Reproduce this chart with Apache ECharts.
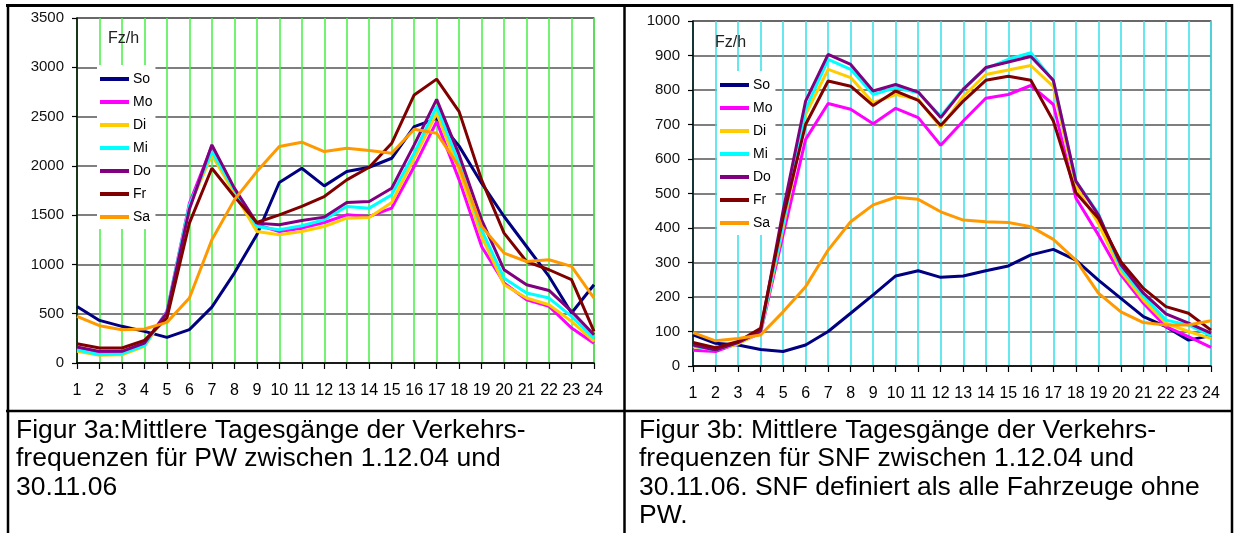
<!DOCTYPE html>
<html>
<head>
<meta charset="utf-8">
<script src="https://cdn.jsdelivr.net/npm/echarts@6/dist/echarts.min.js"></script>
<style>
  html, body { margin: 0; padding: 0; background: #fff; }
  #chart { width: 1237px; height: 533px; }
</style>
</head>
<body>
<div id="chart"></div>
<script>
// Stunden des Tages
const hours = ['1','2','3','4','5','6','7','8','9','10','11','12','13','14','15','16','17','18','19','20','21','22','23','24'];
const dayNames = ['So', 'Mo', 'Di', 'Mi', 'Do', 'Fr', 'Sa'];
const dayColors = ['#000080', '#FF00FF', '#FFCC00', '#00FFFF', '#800080', '#800000', '#FF9900'];

// Figur 3a: PW, Fahrzeuge pro Stunde
const pwSo = [574, 432, 372, 321, 260, 338, 567, 912, 1300, 1831, 1976, 1797, 1942, 1986, 2077, 2398, 2480, 2200, 1824, 1486, 1182, 878, 507, 794];
const pwMo = [152, 95, 101, 186, 524, 1621, 2200, 1757, 1402, 1334, 1368, 1425, 1503, 1486, 1571, 1993, 2449, 1858, 1182, 811, 642, 574, 355, 200];
const pwDi = [118, 78, 84, 169, 507, 1588, 2111, 1723, 1334, 1300, 1334, 1385, 1469, 1477, 1628, 2077, 2534, 1959, 1284, 794, 659, 591, 422, 220];
const pwMi = [135, 84, 95, 176, 520, 1600, 2145, 1757, 1385, 1351, 1392, 1453, 1588, 1571, 1706, 2128, 2601, 2027, 1351, 861, 710, 659, 473, 253];
const pwDo = [162, 118, 118, 203, 507, 1560, 2213, 1774, 1419, 1402, 1446, 1480, 1628, 1638, 1773, 2213, 2675, 2111, 1453, 946, 794, 736, 524, 287];
const pwFr = [196, 152, 152, 230, 456, 1419, 1976, 1689, 1425, 1503, 1588, 1689, 1858, 1986, 2229, 2719, 2880, 2550, 1858, 1317, 1030, 946, 845, 321];
const pwSa = [473, 378, 338, 345, 412, 659, 1250, 1655, 1942, 2196, 2240, 2145, 2179, 2155, 2128, 2371, 2331, 1993, 1385, 1115, 1030, 1047, 980, 659];

// Figur 3b: SNF, Fahrzeuge pro Stunde
const snfSo = [90, 66, 61, 48, 42, 61, 100, 153, 206, 261, 276, 257, 261, 276, 290, 322, 338, 307, 249, 196, 143, 114, 75, 88];
const snfMo = [46, 42, 66, 95, 380, 657, 761, 744, 702, 747, 720, 640, 710, 776, 787, 813, 758, 487, 380, 264, 182, 114, 85, 54];
const snfDi = [56, 48, 64, 97, 400, 729, 860, 836, 763, 787, 773, 691, 782, 845, 858, 871, 810, 521, 413, 274, 191, 124, 100, 80];
const snfMi = [58, 46, 68, 100, 410, 744, 889, 860, 787, 807, 792, 724, 804, 862, 889, 908, 826, 536, 442, 283, 203, 133, 119, 87];
const snfDo = [61, 46, 68, 100, 450, 768, 903, 874, 797, 816, 794, 720, 802, 865, 881, 897, 828, 536, 438, 293, 211, 151, 124, 95];
const snfFr = [68, 53, 71, 109, 430, 700, 826, 811, 755, 797, 770, 697, 768, 828, 840, 828, 710, 502, 428, 302, 225, 172, 153, 104];
const snfSa = [97, 73, 80, 90, 157, 230, 336, 418, 467, 489, 483, 447, 423, 418, 416, 404, 367, 307, 211, 157, 126, 119, 119, 131];

// Achsenbeschriftung
const pwTicks = { min: 0, max: 3500, interval: 500 };
const snfTicks = { min: 0, max: 1000, interval: 100 };
const unitLabel = 'Fz/h';
const captionA = 'Figur 3a:Mittlere Tagesgänge der Verkehrs-\nfrequenzen für PW zwischen 1.12.04 und\n30.11.06';
const captionB = 'Figur 3b: Mittlere Tagesgänge der Verkehrs-\nfrequenzen für SNF zwischen 1.12.04 und\n30.11.06. SNF definiert als alle Fahrzeuge ohne\nPW.';

const pwData = [pwSo, pwMo, pwDi, pwMi, pwDo, pwFr, pwSa];
const snfData = [snfSo, snfMo, snfDi, snfMi, snfDo, snfFr, snfSa];

const FONT = 'Arial, "Liberation Sans", sans-serif';

function xAxis(gridIndex, vColor) {
  return {
    type: 'category', gridIndex: gridIndex, data: hours, boundaryGap: false,
    axisLine: { lineStyle: { color: '#000', width: 1.5 } },
    axisTick: { show: true, length: 6, interval: 0, lineStyle: { color: '#000', width: 1.2 } },
    axisLabel: { interval: 0, margin: 20, color: '#000', fontSize: 16,
      fontFamily: '"Liberation Sans Narrow", "Arial Narrow", Arial, sans-serif' },
    splitLine: { show: true, interval: 0, lineStyle: { color: vColor, width: 1.5 } }
  };
}
function yAxis(gridIndex, t) {
  return {
    type: 'value', gridIndex: gridIndex, min: t.min, max: t.max, interval: t.interval,
    axisLine: { show: true, lineStyle: { color: '#000', width: 1.5 } },
    axisTick: { show: true, length: 5, lineStyle: { color: '#000', width: 1.2 } },
    axisLabel: { margin: 13, color: '#111', fontSize: 15, fontFamily: FONT,
      formatter: function (v) { return String(v); } },
    splitLine: { show: true, lineStyle: { color: '#555', width: 1.5 } }
  };
}
function legend(left, top) {
  return {
    data: dayNames, orient: 'vertical', left: left, top: top,
    icon: 'rect', itemWidth: 29, itemHeight: 4, itemGap: 7,
    padding: [6, 3, 4, 3], backgroundColor: '#fff',
    selectedMode: false,
    textStyle: { color: '#000', fontSize: 14, fontFamily: FONT, lineHeight: 16, padding: [0, 0, 0, -1] }
  };
}
function lines(data, idx) {
  return data.map(function (vals, i) {
    return {
      name: dayNames[i], type: 'line', xAxisIndex: idx, yAxisIndex: idx,
      data: vals, symbol: 'none', smooth: false,
      lineStyle: { color: dayColors[i], width: 3 },
      itemStyle: { color: dayColors[i] },
      z: 3 + i
    };
  });
}

const chart = echarts.init(document.getElementById('chart'), null, { renderer: 'canvas' });
chart.setOption({
  animation: false,
  backgroundColor: '#fff',
  grid: [
    { left: 77, right: 643, top: 18, bottom: 170, show: true, borderColor: '#888', borderWidth: 1.5, backgroundColor: '#fff' },
    { left: 693, right: 26, top: 21, bottom: 167, show: true, borderColor: '#888', borderWidth: 1.5, backgroundColor: '#fff' }
  ],
  xAxis: [xAxis(0, '#44EE44'), xAxis(1, '#33E0E8')],
  yAxis: [yAxis(0, pwTicks), yAxis(1, snfTicks)],
  legend: [legend(97, 65), legend(717, 71)],
  series: lines(pwData, 0).concat(lines(snfData, 1)),
  graphic: [
    { type: 'text', left: 108, top: 31, z: 20, style: { text: unitLabel, fill: '#222', font: '16px ' + FONT } },
    { type: 'text', left: 715, top: 35, z: 20, style: { text: unitLabel, fill: '#222', font: '16px ' + FONT } },
    // Tabellenrahmen
    { type: 'line', z: 30, shape: { x1: 6, y1: 5.5, x2: 1233, y2: 5.5 }, style: { stroke: '#000', lineWidth: 3 } },
    { type: 'line', z: 30, shape: { x1: 8, y1: 4, x2: 8, y2: 533 }, style: { stroke: '#000', lineWidth: 2.5 } },
    { type: 'line', z: 30, shape: { x1: 624.5, y1: 4, x2: 624.5, y2: 533 }, style: { stroke: '#000', lineWidth: 2.5 } },
    { type: 'line', z: 30, shape: { x1: 1232, y1: 4, x2: 1232, y2: 533 }, style: { stroke: '#000', lineWidth: 2.5 } },
    { type: 'line', z: 30, shape: { x1: 6, y1: 411, x2: 1233, y2: 411 }, style: { stroke: '#000', lineWidth: 2.5 } },
    { type: 'text', left: 16, top: 416, z: 20, style: { text: captionA, fill: '#000', font: '26.5px ' + FONT, lineHeight: 28.5 } },
    { type: 'text', left: 639, top: 416, z: 20, style: { text: captionB, fill: '#000', font: '26.5px ' + FONT, lineHeight: 28.5 } }
  ]
});
</script>
</body>
</html>
